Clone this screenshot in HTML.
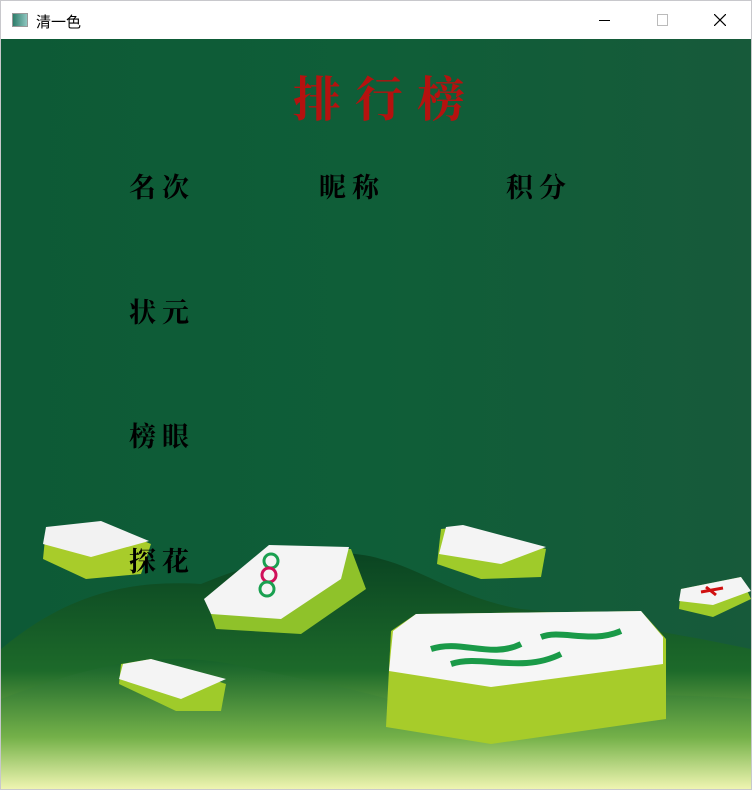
<!DOCTYPE html>
<html><head><meta charset="utf-8"><style>
html,body{margin:0;padding:0;width:752px;height:790px;overflow:hidden;background:#fff;font-family:"Liberation Sans","Noto Sans CJK SC",sans-serif}
#win{position:absolute;left:0;top:0;width:750px;height:788px;border:1px solid #c8c8cc}
#titlebar{position:absolute;left:0;top:0;width:750px;height:38px;background:#fff}
#content{position:absolute;left:0;top:38px;width:750px;height:750px;background:linear-gradient(90deg,#0d5a36 0%,#0f5e38 50%,#175a3a 100%);overflow:hidden}
.t{position:absolute;font-family:"Noto Serif CJK SC","WenQuanYi Zen Hei",serif;font-weight:bold;color:#000;font-size:27px;letter-spacing:6px}
</style></head><body>
<div id="win">
<div id="titlebar">
 <div style="position:absolute;left:11px;top:12px;width:14px;height:12px;border:1px solid #999;background:linear-gradient(90deg,#2e7d6a,#8ec6c0)"></div>
 <div style="position:absolute;left:35px;top:10px;font-size:15px;color:#000">清一色</div>
 <div style="position:absolute;left:598px;top:19px;width:11px;height:1px;background:#000"></div>
 <div style="position:absolute;left:656px;top:13px;width:9px;height:10px;border:1px solid #bbb"></div>
 <svg style="position:absolute;left:713px;top:13px" width="12" height="12"><path d="M0 0L12 12M12 0L0 12" stroke="#000" stroke-width="1.2"/></svg>
</div>
<div id="content">
 <svg width="750" height="750" style="position:absolute;left:0;top:0">
  <defs>
   <linearGradient id="hill" x1="0" y1="0" x2="0" y2="1"><stop offset="0" stop-color="#0a4422"/><stop offset="0.5" stop-color="#1d6a2a"/><stop offset="0.8" stop-color="#8fc050"/><stop offset="1" stop-color="#f2f6b8"/></linearGradient>
   <linearGradient id="hill2" x1="0" y1="0" x2="0" y2="1"><stop offset="0" stop-color="#14602a"/><stop offset="0.6" stop-color="#6fae48"/><stop offset="1" stop-color="#eef4b0"/></linearGradient>
  </defs>
  <path d="M0 610 C60 560 120 540 200 545 C260 520 330 505 380 520 C420 530 460 560 520 570 C580 575 640 590 700 600 L750 610 L750 750 L0 750Z" fill="url(#hill)"/>
  <path d="M0 660 C80 630 150 610 230 625 C300 640 360 650 420 670 C500 660 600 650 750 660 L750 750 L0 750Z" fill="url(#hill2)" opacity="0.8"/>
  <g><path d="M45 490 L100 485 L150 505 L140 535 L85 540 L42 520Z" fill="#a8cc2a"/><path d="M45 488 L100 482 L148 502 L90 518 L42 505Z" fill="#f2f2f2"/></g>
  <g><path d="M205 560 L270 508 L350 510 L365 550 L300 595 L215 590Z" fill="#8fc22a"/><path d="M203 560 L268 506 L348 508 L340 540 L280 580 L210 575Z" fill="#f4f4f4"/><circle cx="270" cy="522" r="7" fill="none" stroke="#19a050" stroke-width="3"/><circle cx="268" cy="536" r="7" fill="none" stroke="#d0105a" stroke-width="3"/><circle cx="266" cy="550" r="7" fill="none" stroke="#19a050" stroke-width="3"/></g>
  <g><path d="M440 490 L460 488 L545 510 L540 538 L480 540 L436 525Z" fill="#9fcb2a"/><path d="M445 488 L462 486 L545 508 L500 525 L438 515Z" fill="#f4f4f4"/></g>
  <g><path d="M120 625 L150 620 L225 645 L220 672 L175 672 L118 645Z" fill="#9fcb2a"/><path d="M122 625 L150 620 L225 640 L180 660 L118 640Z" fill="#f4f4f4"/></g>
  <g><path d="M680 550 L740 538 L750 560 L712 578 L678 570Z" fill="#9fcb2a"/><path d="M680 550 L740 538 L750 552 L712 566 L678 562Z" fill="#f4f4f4"/><path d="M705 548 L715 556 M700 553 L722 549" stroke="#d01010" stroke-width="3"/></g>
  <g><path d="M390 592 L415 575 L640 572 L665 600 L665 680 L490 705 L385 688Z" fill="#a7cc2a"/><path d="M392 592 L415 575 L640 572 L662 598 L662 625 L490 648 L388 632Z" fill="#f6f6f6"/><path d="M430 610 C460 600 490 620 520 605 M450 625 C480 615 520 635 560 615 M540 598 C560 590 590 605 620 592" stroke="#1a9a48" stroke-width="6" fill="none"/></g>
 </svg>
 <div class="t" style="left:292px;top:22px;font-size:48px;color:#b5120f;letter-spacing:14px">排行榜</div>
 <div class="t" style="left:128px;top:127px">名次</div>
 <div class="t" style="left:318px;top:127px">昵称</div>
 <div class="t" style="left:505px;top:127px">积分</div>
 <div class="t" style="left:128px;top:252px">状元</div>
 <div class="t" style="left:128px;top:376px">榜眼</div>
 <div class="t" style="left:128px;top:501px">探花</div>
</div>
</div>
</body></html>
